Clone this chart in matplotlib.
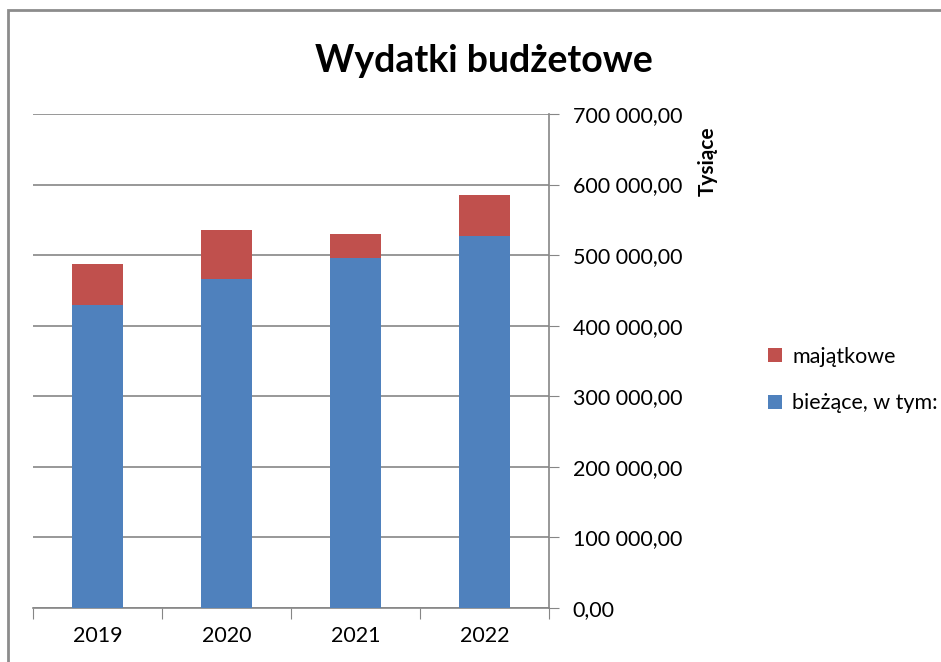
import numpy as np
import matplotlib
matplotlib.use("Agg")
import matplotlib.pyplot as plt
from matplotlib.patches import Rectangle
from matplotlib.ticker import FuncFormatter

# dane (tys.)
lata = ["2019", "2020", "2021", "2022"]
biezace = [429400, 465800, 495500, 527100]
majatkowe = [57600, 69800, 34000, 57700]

kol_biez = "#4f81bd"
kol_maj = "#c0504d"
szary = "#868686"

plt.rcParams['font.family'] = ['Lato', 'DejaVu Sans']

W, H = 941, 662
fig = plt.figure(figsize=(W / 100, H / 100), dpi=100)

# ramka obszaru wykresu
fig.patches.append(Rectangle((8 / W, -0.1), 1.2, 1.1 - 10 / H, transform=fig.transFigure,
                             fill=False, edgecolor="#8c8c8c", linewidth=2))

ax = fig.add_axes([33 / W, 54 / H, 516 / W, 494 / H])
x = np.arange(len(lata))
ax.bar(x, biezace, width=0.4, color=kol_biez, label="bieżące, w tym:", zorder=3)
ax.bar(x, majatkowe, width=0.4, bottom=biezace, color=kol_maj, label="majątkowe", zorder=3)

ax.set_xlim(-0.5, len(lata) - 0.5)
ax.set_ylim(0, 700000)
ax.set_yticks(np.arange(0, 700001, 100000))
ax.yaxis.set_major_formatter(FuncFormatter(lambda v, p: f"{v:,.2f}".replace(",", " ").replace(".", ",")))
ax.yaxis.tick_right()
ax.tick_params(axis="y", direction="out", length=7, color=szary, labelsize=15.5, pad=10)
ax.grid(axis="y", color=szary, linewidth=1.2, zorder=0)

ax.set_xticks(np.arange(-0.5, len(lata)))
ax.set_xticklabels([])
ax.set_xticks(x, minor=True)
ax.set_xticklabels(lata, minor=True, fontsize=15.5)
ax.tick_params(axis="x", which="major", direction="out", length=8, color=szary)
ax.tick_params(axis="x", which="minor", length=0, pad=13)

for s in ["top", "left"]:
    ax.spines[s].set_visible(False)
for s in ["right", "bottom"]:
    ax.spines[s].set_color(szary)
    ax.spines[s].set_linewidth(1.2)

fig.text(484 / W, 1 - 61 / H, "Wydatki budżetowe", ha="center", va="center",
         fontsize=27, fontweight="bold")
fig.text(708 / W, 1 - 161 / H, "Tysiące", ha="center", va="center", rotation=90,
         fontsize=15, fontweight="bold")

h, l = ax.get_legend_handles_labels()
fig.legend(h[::-1], l[::-1], loc="center left", bbox_to_anchor=(749 / W, 1 - 380 / H),
           frameon=False, fontsize=15.5, handlelength=0.65, handleheight=0.65,
           labelspacing=1.25, handletextpad=0.45)

fig.savefig("out.png", dpi=100)
